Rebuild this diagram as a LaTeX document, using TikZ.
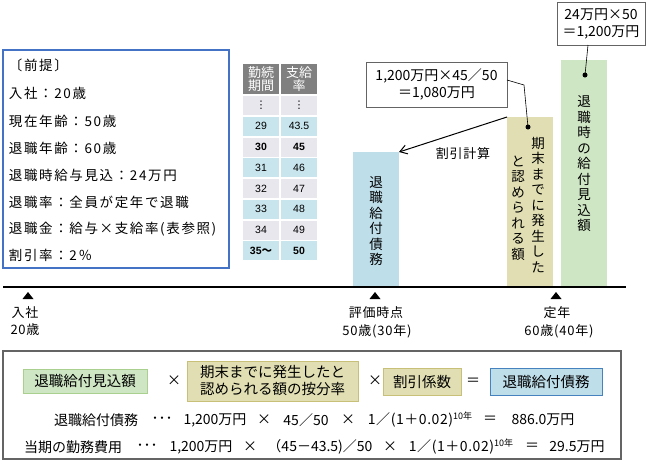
\documentclass[tikz,border=0pt]{standalone}
\usepackage{fontspec}
\setmainfont{Noto Sans CJK JP}
\newfontfamily\latinf{Liberation Sans}
\newfontfamily\cjkf{Noto Sans CJK JP}
\newfontfamily\dejavu{DejaVu Sans}
\newfontfamily\premf[LetterSpace=12]{Noto Sans CJK JP}
\newfontfamily\lblf[LetterSpace=6]{Noto Sans CJK JP}
\newfontfamily\frmf[LetterSpace=4]{Noto Sans CJK JP}
\usetikzlibrary{arrows.meta}
\definecolor{boxblue}{RGB}{68,114,196}
\definecolor{thead}{RGB}{128,128,128}
\definecolor{tblue}{RGB}{200,228,236}
\definecolor{tgray}{RGB}{231,231,237}
\definecolor{barblue}{RGB}{190,222,234}
\definecolor{baryel}{RGB}{224,222,178}
\definecolor{bargreen}{RGB}{206,230,196}
\definecolor{eqgreenb}{RGB}{169,208,142}
\definecolor{eqyelb}{RGB}{200,192,120}
\definecolor{eqblueb}{RGB}{70,130,190}
\definecolor{framegray}{RGB}{100,100,100}
\newcommand{\tenyr}{\raisebox{5pt}{\cjkf\fontsize{9}{9}\selectfont 10年}}
\begin{document}
\begin{tikzpicture}[x=1pt,y=-1pt,
  every node/.style={inner sep=0pt, outer sep=0pt},
  prem/.style={font=\premf\fontsize{13.5}{14}\selectfont, anchor=west},
  hdrcell/.style={fill=thead, text=white, minimum width=36pt, minimum height=30pt, align=center, font=\fontsize{13}{14}\selectfont},
  tcell/.style={minimum width=36pt, minimum height=19pt, font=\latinf\fontsize{10.5}{12}\selectfont},
  bar/.style={minimum width=46pt, anchor=south west},
  vtext/.style={align=center, font=\fontsize{13.5}{15.5}\selectfont},
  callout/.style={draw=framegray, line width=1pt, fill=white, align=center, font=\fontsize{14}{17}\selectfont},
  lbl/.style={font=\lblf\fontsize{13}{14}\selectfont},
  eqbox/.style={line width=1pt, align=center, font=\fontsize{14.5}{17}\selectfont},
  eqtxt/.style={font=\fontsize{14}{14}\selectfont},
  eqsp/.style={font=\frmf\fontsize{14}{14}\selectfont},
  tri/.style={fill=black}
]
\useasboundingbox (0,0) rectangle (663,467);

% premise box
\node[draw=boxblue, line width=1.5pt, minimum width=226pt, minimum height=218pt, anchor=north west] (premise) at (3,50) {};
\node[prem] (p0) at (9,65) {〔前提〕};
\node[prem] (p1) at (9,93) {入社：20歳};
\node[prem] (p2) at (9,121) {現在年齢：50歳};
\node[prem] (p3) at (9,148) {退職年齢：60歳};
\node[prem] (p4) at (9,175) {退職時給与見込：24万円};
\node[prem] (p5) at (9,202) {退職率：全員が定年で退職};
\node[prem] (p6) at (9,229) {退職金：給与×支給率(表参照)};
\node[prem] (p7) at (9,255) {割引率：2％};

% table
\node[hdrcell, anchor=north west] (h1) at (243,64) {勤続\\[-1pt]期間};
\node[hdrcell, anchor=north west] (h2) at (281,64) {支給\\[-1pt]率};
\foreach \i/\a/\b/\c/\w in {0/{\dejavu ⋮}/{\dejavu ⋮}/tgray/\mdseries, 1/29/43.5/tblue/\mdseries, 2/30/45/tgray/\bfseries, 3/31/46/tblue/\mdseries, 4/32/47/tgray/\mdseries, 5/33/48/tblue/\mdseries, 6/34/49/tgray/\mdseries, 7/35{\cjkf 〜}/50/tblue/\bfseries}{
  \node[tcell, fill=\c, anchor=north west] (ca\i) at (243,96+\i*20.75) {\w\a};
  \node[tcell, fill=\c, anchor=north west] (cb\i) at (281,96+\i*20.75) {\w\b};
}

% bars
\node[bar, fill=barblue, minimum height=135pt] (bbar) at (353,287) {};
\node[bar, fill=baryel, minimum height=170pt] (ybar) at (507,287) {};
\node[bar, fill=bargreen, minimum height=227pt] (gbar) at (561,287) {};
\node[vtext] (bt) at (376,221) {退\\職\\給\\付\\債\\務};
\node[vtext] (yt1) at (538,205) {期\\末\\ま\\で\\に\\発\\生\\し\\た};
\node[vtext] (yt2) at (518,208) {と\\認\\め\\ら\\れ\\る\\額};
\node[vtext] (gt) at (584,164) {退\\職\\時\\の\\給\\付\\見\\込\\額};

% timeline
\coordinate (tl0) at (3,287);
\coordinate (tl1) at (626,287);
\draw[line width=1.2pt] (tl0) -- (tl1);
\foreach \x in {28,375,556}{
  \fill[tri] (\x-5.5,299) -- (\x+5.5,299) -- (\x,292) -- cycle;
}
\node[lbl] (l1a) at (25,313) {入社};
\node[lbl] (l1b) at (25,330) {20歳};
\node[lbl] (l2a) at (376,313) {評価時点};
\node[lbl] (l2b) at (377,331) {50歳(30年)};
\node[lbl] (l3a) at (557,313) {定年};
\node[lbl] (l3b) at (559,331) {60歳(40年)};

% callouts
\node[callout, minimum width=141pt, minimum height=45pt, anchor=north west] (call1) at (366,62) {1,200万円×45／50\\＝1,080万円};
\node[callout, minimum width=88pt, minimum height=43pt, anchor=north west] (call2) at (557,2) {24万円×50\\＝1,200万円};
\coordinate (d1) at (528,127);
\coordinate (d2) at (585,75);
\draw[line width=0.6pt] ([yshift=4.5pt]call1.east) -- (524,85) -- (d1);
\fill (d1) circle (2.5pt);
\draw[line width=0.6pt] ([xshift=-13pt]call2.south) -- (d2);
\fill (d2) circle (2.5pt);

% discount arrow
\draw[line width=1pt, -{Straight Barb[length=7pt,width=9pt]}] (ybar.north west) -- (bbar.north east);
\node[lbl] (disc) at (463,154) {割引計算};

% bottom frame
\node[draw=framegray, line width=1.3pt, minimum width=618pt, minimum height=108pt, anchor=north west] (frame) at (3,351) {};
\node[eqbox, fill=bargreen, draw=eqgreenb, minimum width=124pt, minimum height=24pt] (e1) at (85,381) {退職給付見込額};
\node[eqtxt] (x1) at (174,381) {×};
\node[eqbox, fill=baryel, draw=eqyelb, minimum width=171pt, minimum height=40pt] (e2) at (272.5,381) {期末までに発生したと\\認められる額の按分率};
\node[eqtxt] (x2) at (375,381) {×};
\node[eqbox, fill=baryel, draw=eqyelb, minimum width=78pt, minimum height=27pt] (e3) at (422,382) {割引係数};
\node[eqtxt] (eq) at (473,382) {＝};
\node[eqbox, fill=barblue, draw=eqblueb, minimum width=112pt, minimum height=27pt] (e4) at (546,382) {退職給付債務};

% formula line 1
\node[eqtxt] (a1) at (96,420) {退職給付債務};
\node[eqtxt] (a2) at (162,420) {･･･};
\node[eqtxt] (a3) at (215,420) {1,200万円};
\node[eqtxt] (a4) at (264,420) {×};
\node[eqtxt] (a5) at (306,420) {45／50};
\node[eqtxt] (a6) at (348,420) {×};
\node[eqsp] (a7) at (420,420) {1／(1＋0.02)\tenyr};
\node[eqtxt] (a8) at (490,420) {＝};
\node[eqtxt] (a9) at (543,420) {886.0万円};
% formula line 2
\node[eqtxt] (b1) at (73,447) {当期の勤務費用};
\node[eqtxt] (b2) at (147,447) {･･･};
\node[eqtxt] (b3) at (201,447) {1,200万円};
\node[eqtxt] (b4) at (250,447) {×};
\node[eqtxt] (b5) at (320,447) {（45－43.5)／50};
\node[eqtxt] (b6) at (390,447) {×};
\node[eqsp] (b7) at (461,447) {1／(1＋0.02)\tenyr};
\node[eqtxt] (b8) at (532,447) {＝};
\node[eqtxt] (b9) at (577,447) {29.5万円};
\end{tikzpicture}
\end{document}
